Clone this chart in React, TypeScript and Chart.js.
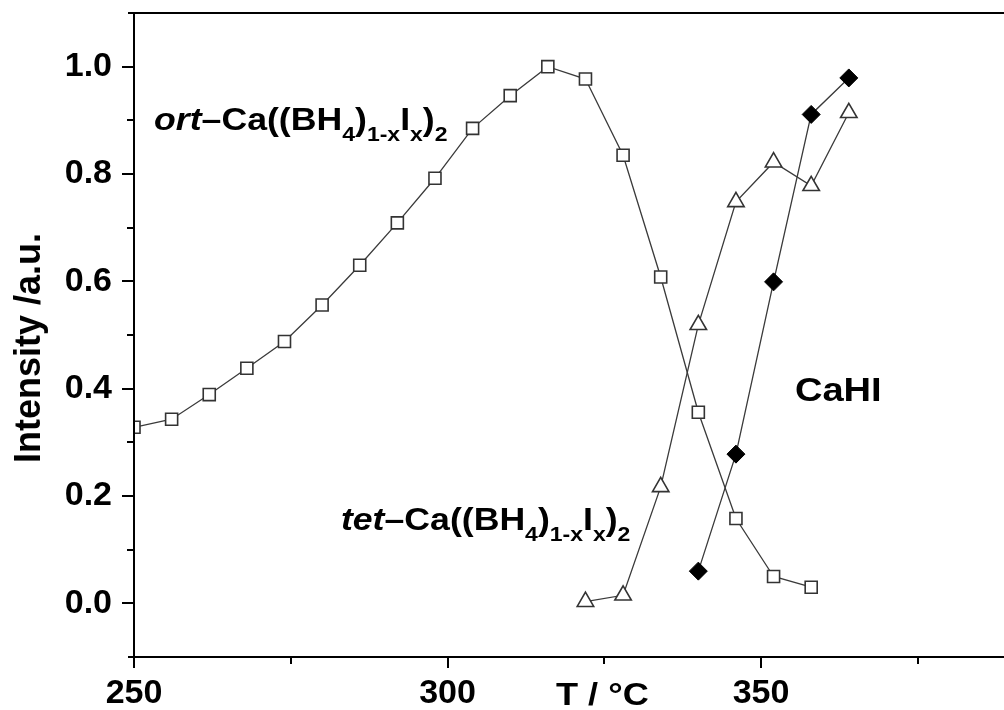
import React, { useEffect, useRef } from "react";
import { Chart, registerables } from "chart.js";

Chart.register(...registerables);

// ---------- data ----------
const ortTemp = [250, 256, 262, 268, 274, 280, 286, 292, 298, 304, 310, 316, 322, 328, 334, 340, 346, 352, 358];
const ortIntensity = [0.328, 0.343, 0.389, 0.438, 0.488, 0.556, 0.63, 0.709, 0.792, 0.885, 0.946, 1.0, 0.977, 0.835, 0.608, 0.356, 0.158, 0.05, 0.03];
const tetTemp = [322, 328, 334, 340, 346, 352, 358, 364];
const tetIntensity = [0.003, 0.015, 0.217, 0.519, 0.748, 0.822, 0.778, 0.914];
const cahiTemp = [340, 346, 352, 358, 364];
const cahiIntensity = [0.06, 0.278, 0.599, 0.911, 0.979];

const xMajorTicks = [250, 300, 350];
const xMinorTicks = [275, 325, 375];
const yMajorTicks = [0, 0.2, 0.4, 0.6, 0.8, 1.0];
const yMinorTicks = [0.1, 0.3, 0.5, 0.7, 0.9];

const xLabel = "T / °C";
const yLabel = "Intensity /a.u.";

type Seg = { t: string; it?: boolean; sub?: boolean };
const formulaTail: Seg[] = [
  { t: "–Ca((BH" },
  { t: "4", sub: true },
  { t: ")" },
  { t: "1-x", sub: true },
  { t: "I" },
  { t: "x", sub: true },
  { t: ")" },
  { t: "2", sub: true },
];
const ortLabel: Seg[] = [{ t: "ort", it: true }, ...formulaTail];
const tetLabel: Seg[] = [{ t: "tet", it: true }, ...formulaTail];
const cahiLabel: Seg[] = [{ t: "CaHI" }];

// label anchors in data coordinates (T, intensity) of the text baseline start
const ortAnchor = [253.2, 0.882];
const tetAnchor = [283.0, 0.137];
const cahiAnchor = [355.4, 0.377];
const xLabelAnchor = [317.3, -0.19];

const FONT = '"Liberation Sans", Arial, Helvetica, sans-serif';

function toPts(xs: number[], ys: number[]) {
  return xs.map((x, i) => ({ x, y: ys[i] }));
}

function drawRich(
  ctx: CanvasRenderingContext2D,
  segs: Seg[],
  x: number,
  y: number,
  main: number,
  sub: number,
  subDy: number,
  sx: number
) {
  ctx.save();
  ctx.translate(x, y);
  ctx.scale(sx, 1);
  ctx.fillStyle = "#000";
  ctx.textBaseline = "alphabetic";
  ctx.textAlign = "left";
  let cx = 0;
  for (const s of segs) {
    ctx.font = `${s.it ? "italic " : ""}bold ${s.sub ? sub : main}px ${FONT}`;
    ctx.fillText(s.t, cx, s.sub ? subDy : 0);
    cx += ctx.measureText(s.t).width;
  }
  ctx.restore();
}

const decorPlugin = {
  id: "decor",
  afterDraw(chart: any) {
    const { ctx, chartArea, scales } = chart;
    const xs = scales.x;
    const ys = scales.y;
    const L = chartArea.left;
    const R = chartArea.right;
    const T = chartArea.top;
    const B = chartArea.bottom;
    ctx.save();
    ctx.strokeStyle = "#000";
    ctx.lineWidth = 2;
    ctx.beginPath();
    ctx.moveTo(L, T);
    ctx.lineTo(L, B);
    ctx.moveTo(L - 6, B);
    ctx.lineTo(R, B);
    ctx.moveTo(L - 6, T);
    ctx.lineTo(R, T);
    for (const v of xMajorTicks) {
      const p = Math.round(xs.getPixelForValue(v));
      ctx.moveTo(p, B);
      ctx.lineTo(p, B + 11);
    }
    for (const v of xMinorTicks) {
      const p = Math.round(xs.getPixelForValue(v));
      ctx.moveTo(p, B);
      ctx.lineTo(p, B + 7);
    }
    for (const v of yMajorTicks) {
      const p = Math.round(ys.getPixelForValue(v));
      ctx.moveTo(L - 12, p);
      ctx.lineTo(L, p);
    }
    for (const v of yMinorTicks) {
      const p = Math.round(ys.getPixelForValue(v));
      ctx.moveTo(L - 7, p);
      ctx.lineTo(L, p);
    }
    ctx.stroke();

    // annotations
    drawRich(ctx, ortLabel, xs.getPixelForValue(ortAnchor[0]), ys.getPixelForValue(ortAnchor[1]), 31, 20, 11, 1.15);
    drawRich(ctx, tetLabel, xs.getPixelForValue(tetAnchor[0]), ys.getPixelForValue(tetAnchor[1]), 31, 20, 11, 1.15);
    drawRich(ctx, cahiLabel, xs.getPixelForValue(cahiAnchor[0]), ys.getPixelForValue(cahiAnchor[1]), 34, 20, 11, 1.12);
    drawRich(ctx, [{ t: xLabel }], xs.getPixelForValue(xLabelAnchor[0]), ys.getPixelForValue(xLabelAnchor[1]), 32, 20, 11, 1.13);

    // y title
    ctx.save();
    ctx.translate(40, (T + B) / 2 + 13);
    ctx.rotate(-Math.PI / 2);
    ctx.font = `bold 36px ${FONT}`;
    ctx.fillStyle = "#000";
    ctx.textAlign = "center";
    ctx.textBaseline = "alphabetic";
    ctx.fillText(yLabel, 0, 0);
    ctx.restore();
    ctx.restore();
  },
};

export default function App() {
  const ref = useRef<HTMLCanvasElement | null>(null);
  useEffect(() => {
    if (!ref.current) return;
    const lineColor = "#3a3a3a";
    const tickFont = { family: FONT, size: 34, weight: "bold" as const };
    const chart = new Chart(ref.current, {
      type: "line",
      data: {
        datasets: [
          {
            label: "ort",
            data: toPts(ortTemp, ortIntensity),
            borderColor: lineColor,
            borderWidth: 1.3,
            pointStyle: "rect",
            pointRadius: 8.5,
            pointBorderWidth: 1.6,
            pointBorderColor: "#333",
            pointBackgroundColor: "#fff",
            clip: { left: 0, right: false, top: false, bottom: false } as any,
          },
          {
            label: "tet",
            data: toPts(tetTemp, tetIntensity),
            borderColor: lineColor,
            borderWidth: 1.3,
            pointStyle: "triangle",
            pointRadius: 9.5,
            pointBorderWidth: 1.6,
            pointBorderColor: "#333",
            pointBackgroundColor: "#fff",
            clip: false as any,
          },
          {
            label: "CaHI",
            data: toPts(cahiTemp, cahiIntensity),
            borderColor: lineColor,
            borderWidth: 1.3,
            pointStyle: "rectRot",
            pointRadius: 9,
            pointBorderWidth: 1,
            pointBorderColor: "#000",
            pointBackgroundColor: "#000",
            clip: false as any,
          },
        ],
      },
      options: {
        animation: false,
        responsive: false,
        layout: { autoPadding: false, padding: { top: 13, left: 0, right: 0, bottom: 0 } },
        plugins: { legend: { display: false }, tooltip: { enabled: false } },
        elements: { line: { tension: 0 } },
        scales: {
          x: {
            type: "linear",
            min: 250,
            max: 388.75,
            grid: { display: false, drawTicks: false },
            border: { display: false },
            afterBuildTicks: (s: any) => {
              s.ticks = xMajorTicks.map((v) => ({ value: v }));
            },
            afterFit: (s: any) => {
              s.height = 53;
              s.paddingLeft = 0;
              s.paddingRight = 0;
            },
            ticks: {
              font: tickFont,
              color: "#000",
              padding: 16,
              maxRotation: 0,
              autoSkip: false,
              callback: (v: any) => String(v),
            },
          },
          y: {
            type: "linear",
            min: -0.1,
            max: 1.1,
            grid: { display: false, drawTicks: false },
            border: { display: false },
            afterBuildTicks: (s: any) => {
              s.ticks = yMajorTicks.map((v) => ({ value: v }));
            },
            afterFit: (s: any) => {
              s.width = 134;
              s.paddingTop = 0;
              s.paddingBottom = 0;
            },
            ticks: {
              font: tickFont,
              color: "#000",
              padding: 22,
              autoSkip: false,
              callback: (v: any) => Number(v).toFixed(1),
            },
          },
        },
      },
      plugins: [decorPlugin],
    } as any);
    return () => chart.destroy();
  }, []);
  return (
    <div style={{ position: "absolute", left: 0, top: 0, width: 1004, height: 710, background: "#fff" }}>
      <canvas ref={ref} width={1004} height={710} style={{ display: "block" }} />
    </div>
  );
}
